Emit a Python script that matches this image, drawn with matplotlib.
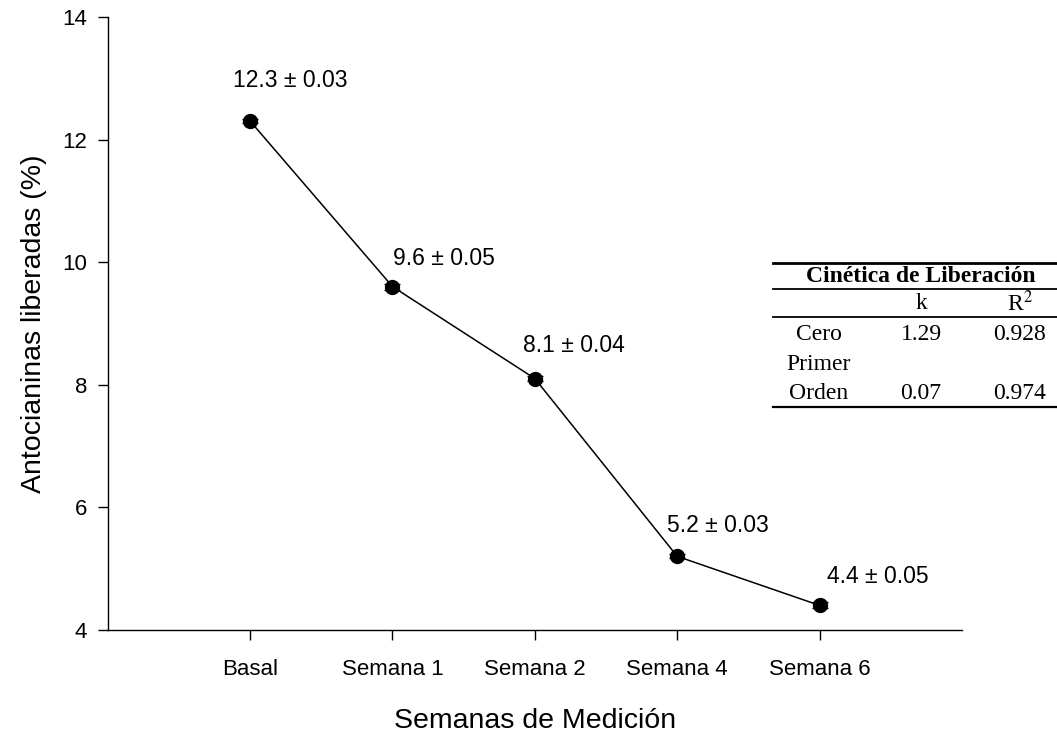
import matplotlib
matplotlib.use("Agg")
import matplotlib.pyplot as plt
from matplotlib.lines import Line2D

# Data
semanas = ["Basal", "Semana 1", "Semana 2", "Semana 4", "Semana 6"]
antocianinas = [12.3, 9.6, 8.1, 5.2, 4.4]
desviacion = [0.03, 0.05, 0.04, 0.03, 0.05]

# Kinetics table
tabla_titulo = "Cinética de Liberación"
modelos = ["Cero", "Primer\nOrden"]
k_vals = ["1.29", "0.07"]
r2_vals = ["0.928", "0.974"]

# Label offsets (points) for the value annotations
offsets = [(29, 29.5), (37, 20), (28, 24), (29, 22), (42, 21)]

plt.rcParams["font.family"] = ["Liberation Sans", "DejaVu Sans"]

fig = plt.figure(figsize=(10.57, 7.35), dpi=100)
ax = fig.add_axes([0.102, 0.143, 0.808, 0.834])

x = list(range(len(semanas)))
ax.errorbar(x, antocianinas, yerr=desviacion, fmt="-o", color="black",
            lw=1.1, ms=10, capsize=6, elinewidth=1, capthick=1, zorder=3)

for xi, v, sd, off in zip(x, antocianinas, desviacion, offsets):
    ax.annotate(f"{v} ± {sd:.2f}", (xi, v), xytext=off, textcoords="offset points",
                ha="center", va="center", fontsize=16.5)

ax.set_xlim(-1, 5)
ax.set_ylim(4, 14)
ax.set_xticks(x)
ax.set_xticklabels(semanas, fontsize=16)
ax.set_yticks([4, 6, 8, 10, 12, 14])
ax.tick_params(axis="y", labelsize=16, direction="out", length=7, width=1, pad=8)
ax.tick_params(axis="x", direction="out", length=7, width=1, pad=14)
for s in ["top", "right"]:
    ax.spines[s].set_visible(False)
for s in ["left", "bottom"]:
    ax.spines[s].set_linewidth(1)

ax.set_xlabel("Semanas de Medición", fontsize=20.5, labelpad=20)
ax.set_ylabel("Antocianinas liberadas (%)", fontsize=20.5, labelpad=11)

# Kinetics table drawn in figure pixel coordinates
W, H = 1057, 735
def fx(px): return px / W
def fy(py): return 1 - py / H

serif = ["Liberation Serif", "DejaVu Serif"]
fs = 17
x0, x1 = 773, 1057
for yy, lw in [(263, 2.0), (289, 1.3), (317, 1.3), (407, 1.6)]:
    fig.add_artist(Line2D([fx(x0), fx(x1)], [fy(yy), fy(yy)], color="black", lw=lw))

fig.text(fx(921), fy(276), tabla_titulo, family=serif, fontsize=fs, weight="bold",
         ha="center", va="center")
fig.text(fx(921), fy(303), "k", family=serif, fontsize=fs, ha="center", va="center")
fig.text(fx(1020), fy(303), "R$^2$", family=serif, fontsize=fs, ha="center", va="center",
         math_fontfamily="stix")

fig.text(fx(819), fy(334), modelos[0], family=serif, fontsize=fs, ha="center", va="center")
fig.text(fx(921), fy(334), k_vals[0], family=serif, fontsize=fs, ha="center", va="center")
fig.text(fx(1020), fy(334), r2_vals[0], family=serif, fontsize=fs, ha="center", va="center")

primer, orden = modelos[1].split("\n")
fig.text(fx(819), fy(364), primer, family=serif, fontsize=fs, ha="center", va="center")
fig.text(fx(819), fy(394), orden, family=serif, fontsize=fs, ha="center", va="center")
fig.text(fx(921), fy(394), k_vals[1], family=serif, fontsize=fs, ha="center", va="center")
fig.text(fx(1020), fy(394), r2_vals[1], family=serif, fontsize=fs, ha="center", va="center")

fig.savefig("out.png", dpi=100)
